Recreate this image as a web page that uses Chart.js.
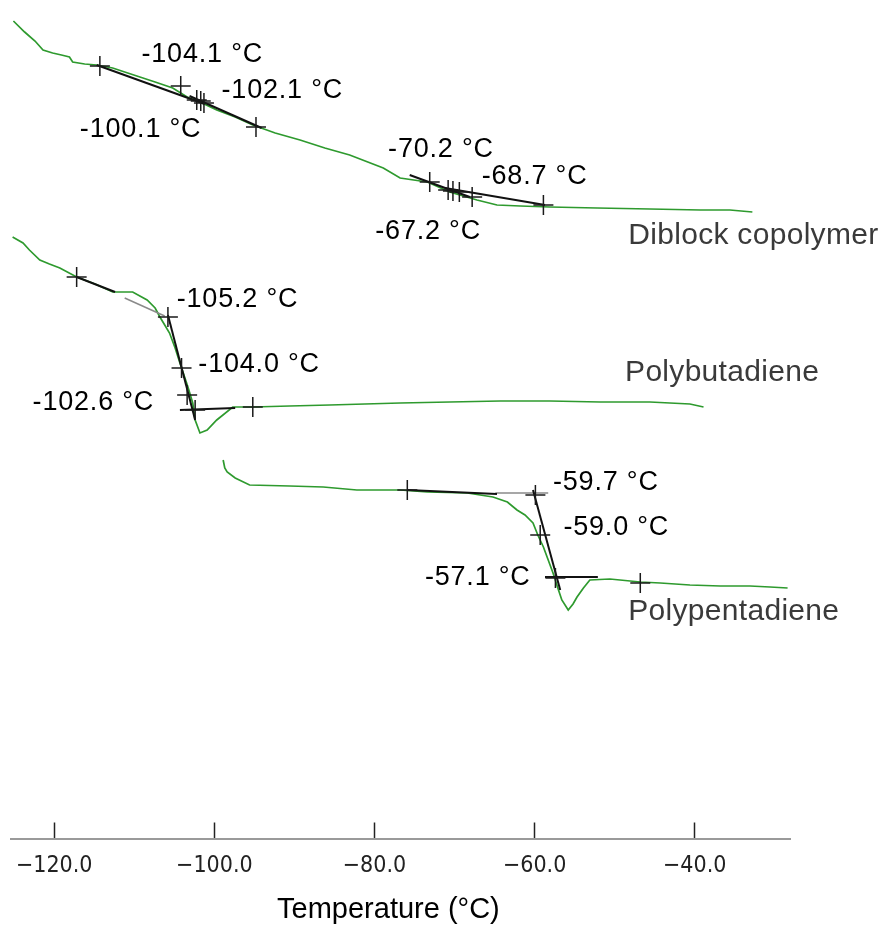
<!DOCTYPE html>
<html>
<head>
<meta charset="utf-8">
<script src="https://cdn.jsdelivr.net/npm/chart.js@4.4.1/dist/chart.umd.min.js"></script>
<style>
  html, body { margin: 0; padding: 0; background: #ffffff; }
  #wrap { width: 884px; height: 927px; }
</style>
</head>
<body>
<div id="wrap"><canvas id="c" width="884" height="927"></canvas></div>
<script>
// ---------- DATA (temperature in °C, heat-flow signal in arbitrary units) ----------
const tickValues = [-120, -100, -80, -60, -40];

// Diblock copolymer
const dibT = [-125.1, -123.7, -122.4, -121.4, -120.2, -119.1, -118.1, -117.7, -116.2, -114.7, -112.7, -111.2, -109.3, -107.4, -105.2, -103.4, -101.8, -99.7, -97.4, -95.2, -92.4, -89.3, -86.2, -83.1, -78.9, -76.8, -73.4, -70.6, -67.2, -64.7, -61.8, -58.1, -52.2, -45.6, -39.3, -35.6, -32.8];
const dibV = [81.75, 80.65, 79.75, 78.85, 78.55, 78.35, 78.15, 77.65, 77.45, 77.35, 77.05, 76.65, 76.15, 75.65, 75.05, 74.15, 73.65, 72.85, 72.15, 71.35, 70.55, 69.85, 69.05, 68.35, 67.05, 66.05, 65.65, 64.65, 63.85, 63.35, 63.25, 63.15, 63.05, 62.95, 62.85, 62.85, 62.65];

// Polybutadiene
const pbdT = [-125.2, -123.9, -123.1, -121.8, -120.6, -119.3, -117.2, -114.9, -112.7, -110.2, -108.4, -107.4, -106.8, -106.2, -105.6, -104.9, -104.3, -103.8, -103.3, -102.7, -102.4, -101.8, -100.9, -99.7, -97.7, -95.2, -90.6, -85.6, -76.8, -70.6, -64.3, -58.1, -51.8, -45.6, -40.6, -38.9];
const pbdV = [60.15, 59.55, 58.85, 57.85, 57.45, 57.05, 56.15, 55.45, 54.65, 54.65, 53.85, 53.05, 52.15, 51.35, 50.55, 49.05, 47.55, 46.35, 45.15, 43.55, 41.85, 40.55, 40.85, 41.85, 43.15, 43.15, 43.25, 43.35, 43.55, 43.65, 43.75, 43.75, 43.65, 43.65, 43.45, 43.15];

// Polypentadiene
const ppdT = [-98.9, -98.7, -98.4, -97.4, -95.6, -90.6, -86.4, -82.2, -76.8, -73.4, -68.4, -65.2, -63.4, -62.2, -61.2, -60.2, -59.6, -58.9, -58.3, -57.7, -57.1, -56.6, -55.8, -55.2, -54.7, -53.9, -53.1, -50.6, -46.8, -44.3, -40.6, -36.8, -33.1, -30.6, -28.4];
const ppdV = [37.85, 37.05, 36.65, 36.05, 35.35, 35.25, 35.15, 34.85, 34.85, 34.65, 34.55, 34.15, 33.65, 32.85, 32.35, 31.55, 30.35, 29.15, 27.85, 26.55, 25.05, 23.85, 22.85, 23.45, 24.15, 25.05, 25.85, 25.95, 25.65, 25.55, 25.35, 25.25, 25.25, 25.15, 25.05];

// Tangent construction lines: [T start, T end] and [V start, V end]
const tanT = [[-114.7, -101.2], [-103.1, -94.1], [-75.6, -68.1], [-71.2, -58.7],
              [-117.2, -112.4], [-105.8, -102.4], [-104.3, -97.4],
              [-75.9, -64.7], [-60.2, -56.8], [-58.7, -52.1]];
const tanV = [[77.35, 73.45], [74.25, 71.05], [66.35, 64.15], [65.05, 63.35],
              [56.15, 54.65], [52.35, 41.85], [42.85, 43.05],
              [34.85, 34.45], [34.85, 24.85], [26.15, 26.15]];
const greyTanT = [[-111.2, -106.2], [-64.9, -58.3], [-58.7, -55.6]];
const greyTanV = [[54.05, 52.25], [34.55, 34.55], [26.15, 26.15]];

// Analysis markers (+)
const crossT = [-114.3, -104.2, -102.2, -101.7, -101.3, -94.8, -73.1, -70.8, -70.2, -69.4, -67.8, -58.9,
                -117.2, -105.8, -104.1, -103.4, -102.4, -95.2,
                -75.9, -59.9, -59.3, -57.4, -46.8];
const crossV = [77.25, 75.25, 73.85, 73.75, 73.55, 71.15, 65.65, 64.85, 64.75, 64.65, 64.15, 63.35,
                56.15, 52.15, 47.05, 44.35, 42.85, 43.15,
                34.85, 34.35, 30.35, 26.05, 25.55];

// Annotations
const annText = ['-104.1 °C', '-102.1 °C', '-100.1 °C', '-70.2 °C', '-68.7 °C', '-67.2 °C',
                 '-105.2 °C', '-104.0 °C', '-102.6 °C', '-59.7 °C', '-59.0 °C', '-57.1 °C'];
const annT = [-109.1, -99.1, -116.8, -78.3, -66.6, -79.9, -104.7, -102.0, -122.7, -57.7, -56.4, -73.7];
const annV = [78.35, 74.75, 70.85, 68.85, 66.15, 60.65, 53.85, 47.35, 43.55, 35.55, 31.05, 26.05];

const seriesNames = ['Diblock copolymer', 'Polybutadiene', 'Polypentadiene'];
const nameT = [-48.3, -48.7, -48.3];
const nameV = [60.25, 46.55, 22.65];

// ---------- BUILD ----------
const zip = (ts, vs) => ts.map((t, i) => ({ x: t, y: vs[i] }));
const GREEN = '#2e9a2e';

const datasets = [];
datasets.push({
  label: 'markers', data: zip(crossT, crossV), showLine: false,
  pointStyle: 'cross', pointRadius: 10, pointBorderColor: '#1a1a1a', pointBorderWidth: 1.5,
  pointBackgroundColor: '#1a1a1a', order: 1, clip: false
});
tanT.forEach((t, i) => datasets.push({
  label: 'tan' + i, data: zip(t, tanV[i]), showLine: true, borderColor: '#111111',
  borderWidth: 2, pointRadius: 0, order: 2
}));
greyTanT.forEach((t, i) => datasets.push({
  label: 'gtan' + i, data: zip(t, greyTanV[i]), showLine: true, borderColor: '#8a8a8a',
  borderWidth: 1.5, pointRadius: 0, order: 2
}));
[[dibT, dibV], [pbdT, pbdV], [ppdT, ppdV]].forEach((s, i) => datasets.push({
  label: seriesNames[i], data: zip(s[0], s[1]), showLine: true, borderColor: GREEN,
  borderWidth: 1.7, pointRadius: 0, tension: 0, order: 3, clip: false
}));

const textPlugin = {
  id: 'textLabels',
  afterDatasetsDraw(chart) {
    const { ctx, scales: { x, y } } = chart;
    ctx.save();
    ctx.textAlign = 'left';
    ctx.textBaseline = 'middle';
    ctx.fillStyle = '#000000';
    ctx.font = '27px "Liberation Sans", Arial, sans-serif';
    if ('letterSpacing' in ctx) ctx.letterSpacing = '0.8px';
    annText.forEach((t, i) => ctx.fillText(t, x.getPixelForValue(annT[i]), y.getPixelForValue(annV[i])));
    ctx.fillStyle = '#3a3a3a';
    ctx.font = '30px "Liberation Sans", Arial, sans-serif';
    if ('letterSpacing' in ctx) ctx.letterSpacing = '0.3px';
    seriesNames.forEach((t, i) => ctx.fillText(t, x.getPixelForValue(nameT[i]), y.getPixelForValue(nameV[i])));
    ctx.restore();
  }
};

new Chart(document.getElementById('c'), {
  type: 'scatter',
  data: { datasets },
  options: {
    responsive: false,
    animation: false,
    devicePixelRatio: 1,
    layout: { autoPadding: false, padding: { left: 11, right: 94, top: 0, bottom: 0 } },
    plugins: { legend: { display: false }, tooltip: { enabled: false } },
    scales: {
      x: {
        type: 'linear', min: -125.4, max: -28.1,
        afterBuildTicks: (s) => { s.ticks = tickValues.map(v => ({ value: v })); },
        afterFit: (s) => { s.height = 88.5; s.paddingLeft = 0; s.paddingRight = 0; },
        ticks: {
          callback: (v) => '\u2212' + Math.abs(v).toFixed(1),
          font: { family: '"Liberation Sans Narrow", "DejaVu Sans Condensed", sans-serif', size: 23 },
          color: '#222222', padding: 30, maxRotation: 0, autoSkip: false
        },
        grid: { drawOnChartArea: false, drawTicks: true, tickLength: -16, tickColor: '#222222', tickWidth: 1.5 },
        border: { display: true, color: '#9a9a9a', width: 2 },
        title: {
          display: true, text: 'Temperature (°C)   ', color: '#000000',
          font: { family: '"Liberation Sans", Arial, sans-serif', size: 29 },
          padding: { top: 0, bottom: 0 }
        }
      },
      y: { type: 'linear', display: false, min: 0, max: 83.85 }
    }
  },
  plugins: [textPlugin]
});
</script>
</body>
</html>
